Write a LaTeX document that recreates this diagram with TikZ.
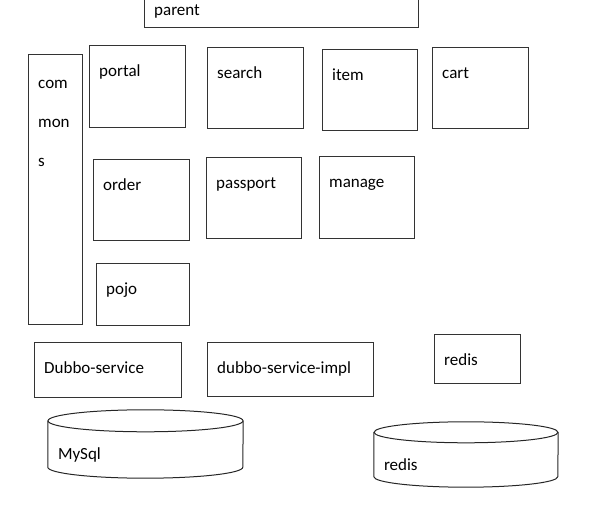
\documentclass[tikz,border=0pt]{standalone}
\usepackage{fontspec}
\setmainfont{Carlito}

\begin{document}
\begin{tikzpicture}[
  x=1pt, y=-1pt,
  module/.style={draw=black!80, line width=1pt, anchor=north west, inner sep=0pt},
  tag/.style={anchor=base west, inner sep=0pt, xshift=10pt, yshift=-32pt,
              font=\fontsize{17}{20}\selectfont},
  store/.style={inner sep=0pt},
  storeline/.style={draw=black!85, line width=1pt},
  dbtag/.style={anchor=base west, inner sep=0pt, xshift=10pt, yshift=-16pt,
                font=\fontsize{17}{20}\selectfont}
]
  \useasboundingbox (0,0) rectangle (598,510);

  % top level
  \node[module, minimum width=274pt, minimum height=43pt, label={[tag]north west:parent}] (parent) at (144,-16) {};
  \node[module, minimum width=54pt, minimum height=270pt,
        label={[tag, yshift=-81pt, align=left, font=\fontsize{17}{39}\selectfont]north west:com\\mon\\s}] (commons) at (28,54) {};

  % web modules
  \node[module, minimum width=96pt, minimum height=82pt, label={[tag]north west:portal}] (portal) at (89,45) {};
  \node[module, minimum width=96pt, minimum height=81pt, label={[tag]north west:search}] (search) at (207,47) {};
  \node[module, minimum width=95pt, minimum height=81pt, label={[tag]north west:item}] (item) at (322,49) {};
  \node[module, minimum width=96pt, minimum height=81pt, label={[tag]north west:cart}] (cart) at (432,47) {};
  \node[module, minimum width=96pt, minimum height=81pt, label={[tag]north west:order}] (order) at (93,159) {};
  \node[module, minimum width=95pt, minimum height=81pt, label={[tag]north west:passport}] (passport) at (206,157) {};
  \node[module, minimum width=95pt, minimum height=82pt, label={[tag]north west:manage}] (manage) at (319,156) {};
  \node[module, minimum width=93pt, minimum height=62pt, label={[tag]north west:pojo}] (pojo) at (96,263) {};

  % services
  \node[module, minimum width=147pt, minimum height=55pt, label={[tag]north west:Dubbo-service}] (dubboservice) at (34,342) {};
  \node[module, minimum width=166pt, minimum height=54pt, label={[tag]north west:dubbo-service-impl}] (dubboimpl) at (207,342) {};
  \node[module, minimum width=86pt, minimum height=49pt, label={[tag]north west:redis}] (redisbox) at (434,334) {};

  % storage
  \node[store, minimum width=195pt, minimum height=68pt, label={[dbtag]west:MySql}] (mysql) at (145.5,444) {};
  \node[store, minimum width=184pt, minimum height=65pt, label={[dbtag]west:redis}] (redisdb) at (466,454.5) {};
  \foreach \db/\rx/\ry in {mysql/97.5/11, redisdb/92/10.5} {
    \draw[storeline] ([yshift=-\ry pt]\db.north) ellipse [x radius=\rx pt, y radius=\ry pt];
    \draw[storeline] ([yshift=-\ry pt]\db.north west) -- ([yshift=\ry pt]\db.south west)
      arc[start angle=180, end angle=360, x radius=\rx pt, y radius=\ry pt]
      -- ([yshift=-\ry pt]\db.north east);
  }
\end{tikzpicture}
\end{document}
